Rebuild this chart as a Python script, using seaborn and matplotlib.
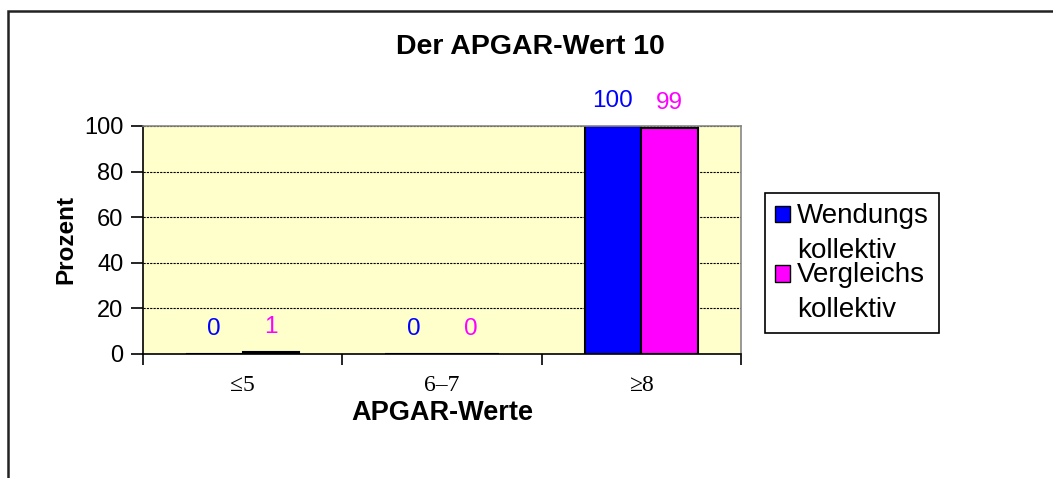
import numpy as np
import pandas as pd
import matplotlib
matplotlib.use('Agg')
import matplotlib.pyplot as plt
import matplotlib.patches as mpatches
from matplotlib.legend_handler import HandlerPatch
import seaborn as sns

# -------------------------- Daten --------------------------
kategorien = ['≤5', '6–7', '≥8']
wendungs = [0, 0, 100]
vergleichs = [1, 0, 99]
serien = ['Wendungs\nkollektiv', 'Vergleichs\nkollektiv']
farben = ['#0000FF', '#FF00FF']
yticks = [0, 20, 40, 60, 80, 100]

df = pd.DataFrame({
    'Wert': kategorien * 2,
    'Prozent': wendungs + vergleichs,
    'Kollektiv': [serien[0]] * 3 + [serien[1]] * 3,
})

# -------------------------- Stil --------------------------
sns.set_style('white')
plt.rcParams['font.family'] = ['Liberation Sans', 'DejaVu Sans']
plt.rcParams['text.color'] = 'black'
plt.rcParams['axes.labelcolor'] = 'black'
plt.rcParams['xtick.color'] = 'black'
plt.rcParams['ytick.color'] = 'black'

W, H = 1053, 478
fig = plt.figure(figsize=(W / 100, H / 100), dpi=100)
ax = fig.add_axes([143 / W, 1 - 354 / H, (741 - 143) / W, (354 - 126) / H])
ax.set_facecolor('#FFFFCC')

sns.barplot(data=df, x='Wert', y='Prozent', hue='Kollektiv', palette=farben,
            edgecolor='black', linewidth=1.5, width=0.57, saturation=1,
            order=kategorien, hue_order=serien, ax=ax)

# Datenbeschriftungen
for cont, farbe in zip(ax.containers, farben):
    ax.bar_label(cont, fmt='%d', padding=10, color=farbe, fontsize=17.5)

ax.set_ylim(0, 100)
ax.set_xlim(-0.5, 2.5)
ax.set_yticks(yticks)
ax.yaxis.grid(True, color='black', linestyle=(0, (2, 1)), linewidth=0.8)
ax.set_axisbelow(True)
for s in ax.spines.values():
    s.set_color('black')
    s.set_linewidth(1.2)
ax.spines['top'].set_color('#888888')
ax.spines['right'].set_color('#888888')

ax.tick_params(axis='y', which='major', direction='out', length=9, width=1.2,
               labelsize=17, pad=5, left=True)
ax.set_xticks(np.arange(len(kategorien)))
ax.set_xticklabels(kategorien, family=['Liberation Serif', 'DejaVu Serif'], fontsize=17)
ax.tick_params(axis='x', which='major', length=0, pad=15)
ax.set_xticks([-0.5, 0.5, 1.5, 2.5], minor=True)
ax.tick_params(axis='x', which='minor', direction='out', length=8, width=1.2, bottom=True)

ax.set_xlabel('APGAR-Werte', fontsize=19.5, fontweight='bold', labelpad=3)
ax.set_ylabel('Prozent', fontsize=17.5, fontweight='bold', labelpad=5)
fig.text(530 / W, 1 - 47 / H, 'Der APGAR-Wert 10', fontsize=20.5, fontweight='bold',
         ha='center', va='center')


# Legendensymbol auf Höhe der ersten Zeile
def oben_patch(legend, orig_handle, xdescent, ydescent, width, height, fontsize):
    return mpatches.Rectangle((-xdescent, -ydescent + 0.7 * fontsize), width, height)


ax.get_legend().remove()
handles = [mpatches.Patch(facecolor=c, edgecolor='black', linewidth=1) for c in farben]
leg = fig.legend(handles, serien, loc='upper left',
                 bbox_to_anchor=(765 / W, 1 - 193 / H), bbox_transform=fig.transFigure,
                 fontsize=20, frameon=True, fancybox=False, framealpha=1,
                 edgecolor='black', handlelength=0.55, handleheight=0.55,
                 handletextpad=0.25, labelspacing=-0.05, borderpad=0.35, borderaxespad=0,
                 handler_map={mpatches.Patch: HandlerPatch(patch_func=oben_patch)})
leg.get_frame().set_linewidth(1.2)
for t in leg.get_texts():
    t.set_linespacing(1.45)

# Rahmen um das Diagramm
rahmen = mpatches.Rectangle((8 / W, -0.1), 1.2, 1 - 11 / H + 0.1, transform=fig.transFigure,
                            fill=False, edgecolor='#222222', linewidth=1.8, clip_on=False)
fig.patches.append(rahmen)

fig.savefig('out.png', dpi=100)
